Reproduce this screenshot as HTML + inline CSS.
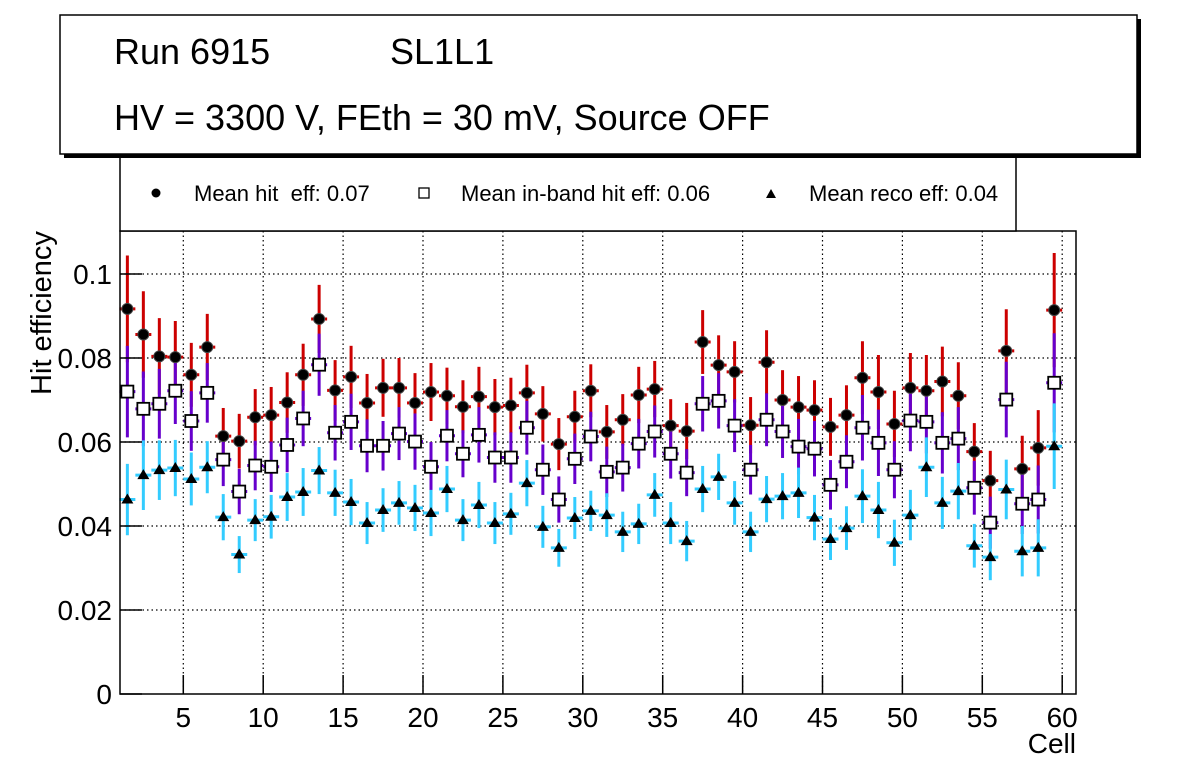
<!DOCTYPE html>
<html><head><meta charset="utf-8"><style>
html,body{margin:0;padding:0;background:#fff;}
svg{display:block;font-family:"Liberation Sans",sans-serif;}
</style></head><body>
<svg id="chart" width="1196" height="772" viewBox="0 0 1196 772" xmlns="http://www.w3.org/2000/svg">
<rect x="0" y="0" width="1196" height="772" fill="#fff"/>
<g id="grid"></g>
<g id="series"></g>
<rect x="120" y="231" width="956" height="463" fill="none" stroke="#000" stroke-width="1.5"/>
<g id="axes"></g>
<text x="51" y="313" font-size="29" text-anchor="middle" transform="rotate(-90 51 313)">Hit efficiency</text>
<text x="1076" y="753" font-size="28" text-anchor="end">Cell</text>
<g>
<rect x="120" y="150" width="896" height="81" fill="#fff" stroke="#000" stroke-width="1.5"/>
<circle cx="156" cy="193" r="4.5" fill="#000"/>
<text x="194" y="201" font-size="22" xml:space="preserve">Mean hit  eff: 0.07</text>
<rect x="419" y="188" width="10" height="10" fill="#fff" stroke="#000" stroke-width="1.3"/>
<text x="461" y="201" font-size="22">Mean in-band hit eff: 0.06</text>
<polygon points="766,198 776,198 771,189" fill="#000"/>
<text x="809" y="201" font-size="22">Mean reco eff: 0.04</text>
</g>
<g>
<rect x="64" y="19" width="1077" height="139" fill="#000"/>
<rect x="60" y="15" width="1077" height="139" fill="#fff" stroke="#000" stroke-width="1.5"/>
<text x="114" y="64" font-size="36">Run 6915</text>
<text x="390" y="64" font-size="36">SL1L1</text>
<text x="114" y="130" font-size="36">HV = 3300 V, FEth = 30 mV, Source OFF</text>
</g>
</svg>
<script>
const cells = Array.from({length:59},(_, i)=>i+1);
const hitEff = [0.0917,0.0856,0.0804,0.0802,0.0760,0.0826,0.0614,0.0602,0.0659,0.0664,0.0694,0.0760,0.0893,0.0723,0.0755,0.0693,0.0729,0.0729,0.0693,0.0719,0.0710,0.0684,0.0708,0.0683,0.0687,0.0717,0.0667,0.0595,0.0660,0.0722,0.0624,0.0653,0.0712,0.0726,0.0639,0.0626,0.0838,0.0783,0.0767,0.0640,0.0790,0.0700,0.0683,0.0676,0.0636,0.0664,0.0753,0.0719,0.0643,0.0729,0.0722,0.0744,0.0710,0.0577,0.0508,0.0817,0.0536,0.0586,0.0914];
const hitErr = [0.0127,0.0103,0.0091,0.0086,0.0076,0.0079,0.0067,0.0065,0.0067,0.0067,0.0072,0.0074,0.0081,0.0072,0.0074,0.0069,0.0069,0.0071,0.0071,0.0069,0.0067,0.0063,0.0071,0.0067,0.0066,0.0067,0.0066,0.0062,0.0062,0.0063,0.0064,0.0061,0.0067,0.0067,0.0063,0.0067,0.0076,0.0071,0.0073,0.0067,0.0076,0.0071,0.0074,0.0071,0.0069,0.0071,0.0087,0.0088,0.0079,0.0083,0.0085,0.0083,0.0080,0.0068,0.0071,0.0099,0.0079,0.0090,0.0136];
const inbandEff = [0.0720,0.0679,0.0691,0.0722,0.0650,0.0717,0.0558,0.0482,0.0544,0.0541,0.0593,0.0656,0.0784,0.0622,0.0648,0.0591,0.0591,0.0620,0.0601,0.0541,0.0615,0.0572,0.0617,0.0563,0.0563,0.0634,0.0534,0.0463,0.0560,0.0613,0.0529,0.0539,0.0596,0.0625,0.0572,0.0527,0.0691,0.0698,0.0639,0.0534,0.0653,0.0625,0.0589,0.0584,0.0498,0.0553,0.0634,0.0598,0.0534,0.0651,0.0648,0.0598,0.0608,0.0491,0.0408,0.0701,0.0453,0.0463,0.0741];
const inbandErr = [0.0109,0.0089,0.0083,0.0079,0.0071,0.0071,0.0063,0.0054,0.0059,0.0060,0.0065,0.0066,0.0074,0.0066,0.0067,0.0063,0.0059,0.0063,0.0067,0.0059,0.0061,0.0056,0.0066,0.0060,0.0060,0.0064,0.0060,0.0055,0.0060,0.0059,0.0060,0.0057,0.0059,0.0062,0.0059,0.0056,0.0066,0.0066,0.0063,0.0059,0.0063,0.0063,0.0066,0.0066,0.0059,0.0063,0.0078,0.0079,0.0068,0.0073,0.0075,0.0073,0.0075,0.0064,0.0062,0.0090,0.0072,0.0081,0.0118];
const recoEff = [0.0463,0.0521,0.0533,0.0538,0.0512,0.0540,0.0421,0.0332,0.0414,0.0422,0.0469,0.0481,0.0532,0.0479,0.0457,0.0407,0.0438,0.0455,0.0443,0.0431,0.0488,0.0414,0.0450,0.0407,0.0429,0.0502,0.0398,0.0348,0.0419,0.0436,0.0426,0.0386,0.0405,0.0474,0.0407,0.0364,0.0488,0.0517,0.0455,0.0386,0.0464,0.0471,0.0479,0.0420,0.0369,0.0395,0.0471,0.0438,0.0360,0.0426,0.0540,0.0455,0.0483,0.0353,0.0326,0.0487,0.0340,0.0348,0.0590];
const recoErr = [0.0085,0.0083,0.0071,0.0067,0.0063,0.0062,0.0055,0.0044,0.0050,0.0052,0.0057,0.0057,0.0056,0.0055,0.0055,0.0050,0.0052,0.0052,0.0055,0.0055,0.0055,0.0050,0.0055,0.0050,0.0050,0.0055,0.0050,0.0045,0.0050,0.0048,0.0052,0.0048,0.0048,0.0052,0.0050,0.0048,0.0055,0.0055,0.0052,0.0048,0.0055,0.0055,0.0060,0.0054,0.0050,0.0052,0.0064,0.0067,0.0055,0.0060,0.0071,0.0062,0.0067,0.0052,0.0055,0.0071,0.0060,0.0068,0.0102];
const xTicks = [5,10,15,20,25,30,35,40,45,50,55,60];
const yTicks = [0,0.02,0.04,0.06,0.08,0.1];
const yTickLabels = ["0","0.02","0.04","0.06","0.08","0.1"];

const NS="http://www.w3.org/2000/svg";
function xs(v){return 183.3+(v-5)*15.98;}
function ys(v){return 694-v*4200;}
function mk(tag,attrs,parent){const e=document.createElementNS(NS,tag);for(const k in attrs)e.setAttribute(k,attrs[k]);parent.appendChild(e);return e;}
const grid=document.getElementById('grid'),axes=document.getElementById('axes'),ser=document.getElementById('series');
xTicks.forEach(t=>{
  const l=mk('line',{x1:xs(t),x2:xs(t),y1:231,y2:694,stroke:'#000','stroke-width':1.2,'stroke-dasharray':'1.5,3'},grid);
  
  
  const tk=mk('line',{x1:xs(t),x2:xs(t),y1:675,y2:694,stroke:'#000','stroke-width':1.5},axes);
  
  
  const tx=mk('text',{x:xs(t),y:727,'font-size':28,'text-anchor':'middle'},axes);
  tx.textContent=t;
  
  
});
yTicks.forEach((t,i)=>{
  if(t>0){const l=mk('line',{x1:120,x2:1076,y1:ys(t),y2:ys(t),stroke:'#000','stroke-width':1.2,'stroke-dasharray':'1.5,3'},grid);
  
  }
  const tk=mk('line',{x1:120,x2:142,y1:ys(t),y2:ys(t),stroke:'#000','stroke-width':1.5},axes);
  
  
  const tx=mk('text',{x:112,y:ys(t)+10,'font-size':28,'text-anchor':'end'},axes);
  tx.textContent=yTickLabels[i];
  
  
});
function bars(vals,errs,color,name){
  const g=mk('g',{},ser);
  
  
  vals.forEach((v,i)=>{
    const c=cells[i]+0.5;
    mk('line',{x1:xs(c),x2:xs(c),y1:ys(v-errs[i]),y2:ys(v+errs[i]),stroke:color,'stroke-width':3},g);
    mk('line',{x1:xs(c-0.5),x2:xs(c+0.5),y1:ys(v),y2:ys(v),stroke:color,'stroke-width':3},g);
  });
}
bars(hitEff,hitErr,'#cc0000','hit');
bars(inbandEff,inbandErr,'#6600cc','inband');
bars(recoEff,recoErr,'#33ccff','reco');
hitEff.forEach((v,i)=>{
  const e=mk('circle',{cx:xs(cells[i]+0.5),cy:ys(v),r:5.5,fill:'#000',stroke:'#444','stroke-width':1},ser);
  
  
});
inbandEff.forEach((v,i)=>{
  const x=xs(cells[i]+0.5),y=ys(v);
  const e=mk('rect',{x:x-6,y:y-6,width:12,height:12,fill:'#fff',stroke:'#000','stroke-width':1.8},ser);
  
  
});
recoEff.forEach((v,i)=>{
  const x=xs(cells[i]+0.5),y=ys(v);
  const e=mk('polygon',{points:`${x-6},${y+4} ${x+6},${y+4} ${x},${y-6}`,fill:'#000'},ser);
  
  
});
</script>
</body></html>
